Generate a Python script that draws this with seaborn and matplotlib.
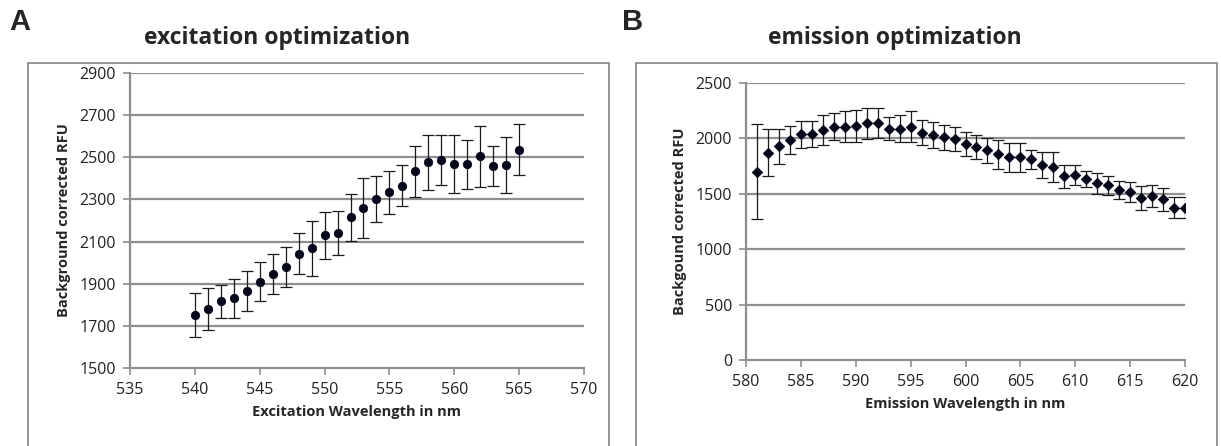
import matplotlib
matplotlib.use("Agg")
import matplotlib.pyplot as plt
import seaborn as sns
import numpy as np
import pandas as pd
from matplotlib.patches import Rectangle

# ---------------- data ----------------
ex_wavelength = list(range(540, 566))
ex_rfu = [1752, 1782, 1816, 1831, 1864, 1909, 1947, 1981, 2043, 2068, 2130, 2141,
          2216, 2261, 2303, 2334, 2366, 2433, 2476, 2486, 2467, 2467, 2505, 2459,
          2462, 2536]
ex_err = [105, 100, 78, 92, 95, 93, 95, 95, 97, 130, 112, 104,
          112, 142, 110, 102, 98, 122, 130, 118, 138, 116, 145, 96,
          133, 120]

em_wavelength = list(range(581, 621))
em_rfu = [1699, 1871, 1930, 1985, 2036, 2036, 2075, 2106, 2106, 2111,
          2135, 2142, 2088, 2088, 2106, 2051, 2030, 2012, 1997, 1949,
          1922, 1892, 1855, 1828, 1828, 1810, 1756, 1741, 1660, 1672,
          1636, 1593, 1575, 1533, 1515, 1464, 1479, 1449, 1374, 1374]
em_err = [430, 212, 158, 128, 123, 118, 135, 121, 139, 141,
          140, 135, 106, 124, 139, 113, 120, 113, 110, 112,
          107, 112, 134, 130, 130, 88, 117, 135, 104, 90,
          71, 95, 90, 80, 90, 110, 100, 100, 95, 95]

ex_xticks = [535, 540, 545, 550, 555, 560, 565, 570]
ex_yticks = [1500, 1700, 1900, 2100, 2300, 2500, 2700, 2900]
em_xticks = [580, 585, 590, 595, 600, 605, 610, 615, 620]
em_yticks = [0, 500, 1000, 1500, 2000, 2500]

panel_letters = ["A", "B"]
titles = ["excitation optimization", "emission optimization"]
xlabels = ["Excitation Wavelength in nm", "Emission Wavelength in nm"]
ylabels = ["Background corrected RFU", "Backgound corrected RFU"]

# ---------------- style ----------------
sns.set_theme(style="white")
plt.rcParams["font.family"] = ["Open Sans", "DejaVu Sans"]

W, H = 1221, 446
fig = plt.figure(figsize=(W / 100, H / 100), dpi=100)

def fx(px):
    return px / W

def fy(py):
    return 1 - py / H

# outer border boxes (Excel chart areas)
for (x0, x1) in [(28, 609), (636, 1217)]:
    fig.patches.append(Rectangle((fx(x0), fy(500)), fx(x1) - fx(x0), fy(63) - fy(500),
                                 transform=fig.transFigure, fill=False,
                                 edgecolor="#8c8c8c", linewidth=1.3))

axA = fig.add_axes([fx(130), fy(368), fx(584) - fx(130), fy(73) - fy(368)])
axB = fig.add_axes([fx(746), fy(360), fx(1185) - fx(746), fy(83) - fy(360)])

dfA = pd.DataFrame({"wl": ex_wavelength, "rfu": ex_rfu, "err": ex_err})
dfB = pd.DataFrame({"wl": em_wavelength, "rfu": em_rfu, "err": em_err})

grid_c = "#8f8f8f"
for ax, df, xt, yt, mk, ms in [(axA, dfA, ex_xticks, ex_yticks, "o", 36),
                               (axB, dfB, em_xticks, em_yticks, "D", 28)]:
    ax.errorbar(df["wl"], df["rfu"], yerr=df["err"], fmt="none", ecolor="#1a1a1a",
                elinewidth=0.9, capsize=4, capthick=0.9, zorder=3)
    sns.scatterplot(data=df, x="wl", y="rfu", ax=ax, marker=mk, s=ms,
                    color="#05051a", edgecolor="#05051a", linewidth=0.6, zorder=4,
                    legend=False)
    ax.set_xlim(xt[0], xt[-1])
    ax.set_ylim(yt[0], yt[-1])
    ax.set_xticks(xt)
    ax.set_yticks(yt)
    ax.set_xticklabels([str(v) for v in xt])
    ax.set_yticklabels([str(v) for v in yt])
    for y in yt[1:]:
        ax.axhline(y, color=grid_c, linewidth=1.6, zorder=1)
    for s in ["top", "right"]:
        ax.spines[s].set_visible(False)
    for s in ["left", "bottom"]:
        ax.spines[s].set_color(grid_c)
        ax.spines[s].set_linewidth(1.6)
    ax.tick_params(axis="both", which="major", direction="out", length=5, width=1.2,
                   color=grid_c, labelsize=11.5, labelcolor="#222222", pad=5,
                   left=True, bottom=True)
    ax.set_facecolor("white")

axA.set_xlabel(xlabels[0], fontsize=10.5, fontweight="bold", labelpad=5)
axA.set_ylabel(ylabels[0], fontsize=10.5, fontweight="bold", labelpad=6)
axB.set_xlabel(xlabels[1], fontsize=10.5, fontweight="bold", labelpad=5)
axB.set_ylabel(ylabels[1], fontsize=10.5, fontweight="bold", labelpad=6)

# titles and panel letters
fig.text(fx(277), fy(38), titles[0], ha="center", va="center", fontsize=16.5,
         fontweight="bold")
fig.text(fx(895), fy(38), titles[1], ha="center", va="center", fontsize=16.5,
         fontweight="bold")
fig.text(fx(9), fy(22), panel_letters[0], ha="left", va="center", fontsize=21,
         fontweight="bold", family=["Liberation Sans", "DejaVu Sans"])
fig.text(fx(622), fy(22), panel_letters[1], ha="left", va="center", fontsize=21,
         fontweight="bold", family=["Liberation Sans", "DejaVu Sans"])

fig.savefig("out.png", dpi=100, facecolor="white")
